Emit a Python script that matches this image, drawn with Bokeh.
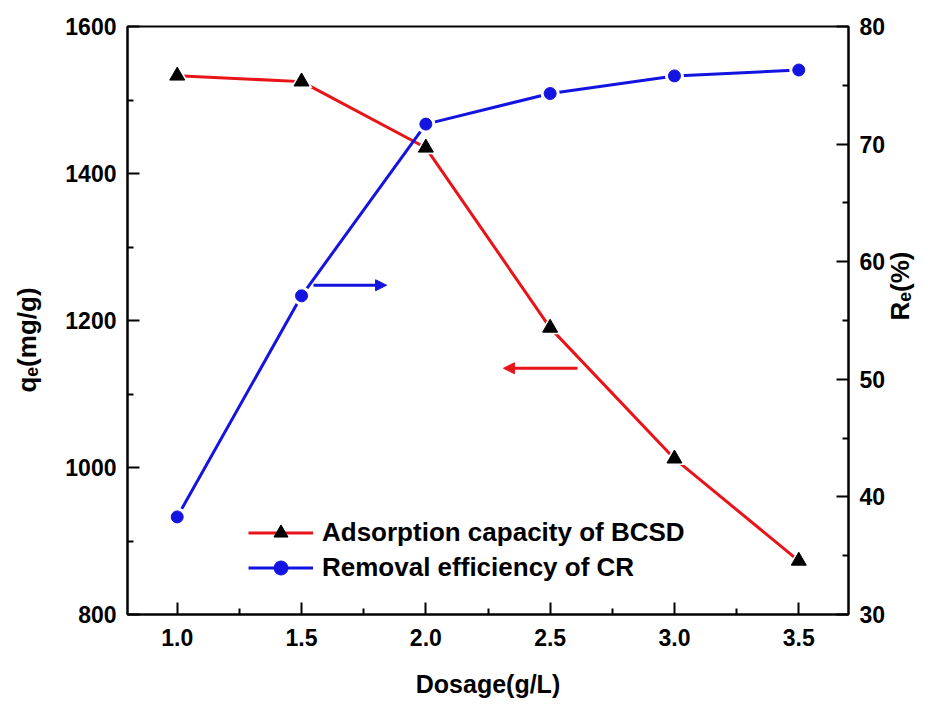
from bokeh.plotting import figure
from bokeh.models import (Range1d, LinearAxis, FixedTicker, PrintfTickFormatter,
                          Arrow, NormalHead, Legend, LegendItem)
from bokeh.embed import file_html
from bokeh.resources import INLINE
import math

# ---- data ----
dosage = [1.0, 1.5, 2.0, 2.5, 3.0, 3.5]
qe = [1533, 1525, 1435, 1190, 1012, 873]          # adsorption capacity (mg/g)
re = [38.3, 57.1, 71.7, 74.3, 75.8, 76.3]         # removal efficiency (%)

x_ticks = [1.0, 1.5, 2.0, 2.5, 3.0, 3.5]
x_minor = [0.75, 1.25, 1.75, 2.25, 2.75, 3.25, 3.75]
yl_ticks = [800, 1000, 1200, 1400, 1600]
yl_minor = [900, 1100, 1300, 1500]
yr_ticks = [30, 40, 50, 60, 70, 80]
yr_minor = [35, 45, 55, 65, 75]

FONT = "Liberation Sans"
RED = "#e8141a"
BLUE = "#1414e0"
PAD = "\u2003\u2002"   # trailing em+en space: nudges the left title down a little

p = figure(width=928, height=704, frame_width=721, frame_height=588,
           min_border_left=127, min_border_top=26, min_border_right=80, min_border_bottom=90,
           x_range=Range1d(0.8, 3.7), y_range=Range1d(800, 1600),
           output_backend="svg", toolbar_location=None)
p.extra_y_ranges = {"re": Range1d(30, 80)}
p.xgrid.visible = False
p.ygrid.visible = False
p.outline_line_color = "black"
p.outline_line_width = 2
p.outline_line_alpha = 1

right_axis = LinearAxis(y_range_name="re")
p.add_layout(right_axis, "right")

def style_axis(ax, ticks, minor, label, standoff):
    ax.ticker = FixedTicker(ticks=ticks, minor_ticks=minor)
    ax.axis_line_width = 2
    ax.axis_line_color = "black"
    ax.major_tick_in = 12
    ax.major_tick_out = 0
    ax.minor_tick_in = 6
    ax.minor_tick_out = 0
    ax.major_tick_line_width = 2
    ax.minor_tick_line_width = 2
    ax.major_tick_line_color = "black"
    ax.minor_tick_line_color = "black"
    ax.major_label_text_font = FONT
    ax.major_label_text_font_style = "bold"
    ax.major_label_text_font_size = "23px"
    ax.major_label_text_color = "black"
    ax.major_label_standoff = 11
    ax.axis_label = label
    ax.axis_label_text_font = FONT
    ax.axis_label_text_font_style = "bold"
    ax.axis_label_text_font_size = "26px"
    ax.axis_label_text_color = "black"
    ax.axis_label_standoff = standoff

style_axis(p.xaxis[0], x_ticks, x_minor, "Dosage(g/L)", 21)
p.xaxis[0].formatter = PrintfTickFormatter(format="%.1f")
p.xaxis[0].major_label_standoff = 14
p.xaxis[0].axis_label_text_font_size = "25px"
style_axis(p.yaxis[0], yl_ticks, yl_minor, "q\u2091(mg/g)" + PAD, 20)
style_axis(right_axis, yr_ticks, yr_minor, "R\u2091(%)", 12)
try:
    right_axis.axis_label_orientation = math.pi / 2   # read bottom-to-top like the left title
except Exception:
    pass

# ---- series ----
l1 = p.line(dosage, qe, line_color=RED, line_width=3)
p.scatter(dosage, qe, marker="triangle", size=22, fill_color="white", line_color=None)
m1 = p.scatter(dosage, qe, marker="triangle", size=15, fill_color="black", line_color="black")

l2 = p.line(dosage, re, line_color=BLUE, line_width=3, y_range_name="re")
p.scatter(dosage, re, marker="circle", size=19, fill_color="white", line_color=None, y_range_name="re")
m2 = p.scatter(dosage, re, marker="circle", size=12, fill_color=BLUE, line_color=BLUE, y_range_name="re")

# ---- legend ----
legend = Legend(items=[LegendItem(label="Adsorption capacity of BCSD", renderers=[l1, m1]),
                       LegendItem(label="Removal efficiency of CR", renderers=[l2, m2])],
                location=(121, 29), padding=0, margin=0, spacing=0,
                glyph_width=65, glyph_height=35, label_height=35, label_standoff=9,
                label_text_font=FONT, label_text_font_style="bold",
                label_text_font_size="26px", label_text_color="black",
                background_fill_alpha=0, border_line_color=None)
p.add_layout(legend, "center")

# ---- arrows pointing to the relevant axis ----
blue_arrow = dict(x0=1.548, x1=1.842, y=1248)
red_arrow = dict(x0=2.610, x1=2.312, y=1135)
p.add_layout(Arrow(end=NormalHead(size=11, fill_color=BLUE, line_color=BLUE),
                   x_start=blue_arrow["x0"], y_start=blue_arrow["y"],
                   x_end=blue_arrow["x1"], y_end=blue_arrow["y"],
                   line_color=BLUE, line_width=3))
p.add_layout(Arrow(end=NormalHead(size=11, fill_color=RED, line_color=RED),
                   x_start=red_arrow["x0"], y_start=red_arrow["y"],
                   x_end=red_arrow["x1"], y_end=red_arrow["y"],
                   line_color=RED, line_width=3))

open("out.html", "w").write(file_html(p, INLINE))
